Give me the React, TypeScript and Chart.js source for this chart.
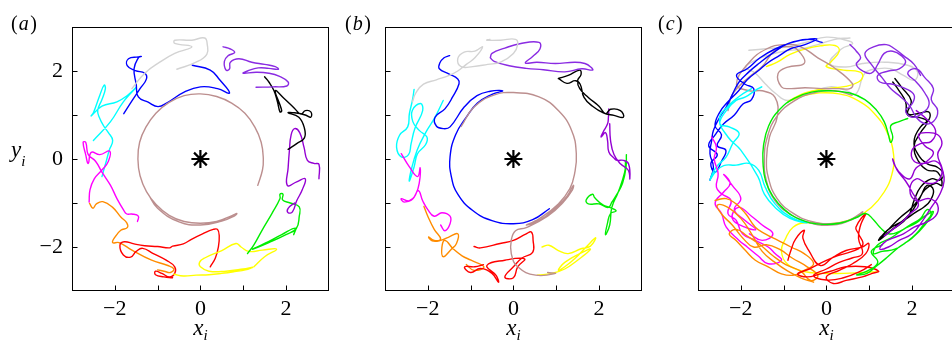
import React, { useEffect, useRef } from 'react';
import { Chart, registerables } from 'chart.js';
Chart.register(...registerables);

type P = [number, number][];

const AXIS_MIN = -3;
const AXIS_MAX = 3;
const TICK_VALUES = [-2, -1, 0, 1, 2];
const CENTER: P = [[0, 0]];

// ---------- panel (a) ----------
const A_BROWN: P = [[1.34,-0.6],[1.45,-0.25],[1.47,0.0],[1.42,0.38],[1.27,0.73],[1.04,1.04],[0.73,1.27],[0.38,1.42],[0,1.48],[-0.38,1.44],[-0.74,1.28],[-1.04,1.04],[-1.27,0.73],[-1.42,0.38],[-1.46,0.0],[-1.41,-0.38],[-1.26,-0.74],[-1.03,-1.04],[-0.73,-1.28],[-0.38,-1.42],[0,-1.46],[0.38,-1.42],[0.75,-1.28],[0.85,-1.24],[0.8,-1.29],[0.5,-1.41],[0,-1.5],[-0.5,-1.43],[-1.0,-1.12],[-1.22,-0.8]];
const A_GREY: P = [[-1.6,1.6],[-1.3,1.95],[-0.95,2.2],[-0.6,2.4],[-0.2,2.55],[-0.6,2.63],[-0.6,2.7],[-0.2,2.7],[0.1,2.75],[0.16,2.6],[0.15,2.38],[-0.1,2.2],[-0.55,2.04]];
const A_BLUE: P = [[-1.79,1.03],[-1.6,1.32],[-1.41,1.6],[-1.26,1.82],[-1.3,1.95],[-1.52,2.01],[-1.71,2.12],[-1.68,2.28],[-1.45,2.32],[-1.38,2.33],[-1.45,2.3],[-1.55,2.05],[-1.5,1.7],[-1.45,1.41],[-1.22,1.29],[-0.99,1.19],[-0.76,1.29],[-0.38,1.52],[0.0,1.64],[0.4,1.6],[0.68,1.5],[0.45,1.8],[0.23,2.02],[-0.19,2.13]];
const A_VIOLET1: P = [[0.53,2.55],[0.7,2.5],[0.8,2.42],[0.65,2.35],[0.56,2.22],[0.6,2.02],[0.68,2.05],[0.7,2.2],[0.9,2.28],[1.2,2.2],[1.5,2.15],[1.75,2.1],[1.82,2.04],[1.6,2.06],[1.35,2.07],[1.1,2.0],[1.0,1.95],[1.3,1.97],[1.6,1.95],[1.85,1.88],[2.05,1.75],[2.02,1.66],[1.7,1.64],[1.3,1.63]];
const A_BLACK: P = [[1.5,1.87],[1.6,1.75],[1.72,1.55],[1.8,1.3],[1.86,1.07],[1.9,1.1],[1.75,1.55],[1.95,1.38],[2.2,1.15],[2.35,1.02],[2.45,1.1],[2.58,1.07],[2.58,0.95],[2.45,1.0],[2.2,1.05],[2.05,1.05],[2.3,0.95],[2.43,0.7],[2.43,0.48],[2.25,0.35],[2.05,0.22]];
const A_VIOLET2: P = [[2.77,-0.45],[2.77,-0.12],[2.65,-0.1],[2.5,-0.03],[2.42,0.27],[2.32,0.6],[2.2,0.69],[2.12,0.55],[2.08,0.2],[2.05,-0.2],[2.03,-0.6],[2.25,-0.52],[2.45,-0.45],[2.38,-0.7],[2.25,-0.95],[2.15,-1.2],[2.05,-1.22],[2.05,-1.12],[2.2,-1.0]];
const A_GREEN: P = [[1.1,-2.15],[1.25,-1.95],[1.44,-1.62],[1.67,-1.24],[1.86,-0.9],[1.86,-0.8],[1.93,-0.8],[1.92,-0.93],[2.1,-1.0],[2.31,-1.09],[2.31,-1.3],[2.24,-1.58],[2.0,-1.72],[1.6,-1.9],[1.22,-2.05],[1.5,-1.92],[1.9,-1.72],[2.22,-1.57],[2.18,-1.72]];
const A_YELLOW: P = [[-0.62,-2.62],[-0.4,-2.66],[-0.1,-2.64],[0.2,-2.63],[0.5,-2.6],[0.8,-2.56],[1.05,-2.52],[1.22,-2.46],[1.0,-2.5],[0.6,-2.55],[0.2,-2.55],[0.0,-2.45],[-0.02,-2.35],[0.1,-2.25],[0.5,-2.08],[0.83,-1.92],[0.95,-2.0],[1.13,-2.1],[1.45,-2.07],[1.78,-2.05],[1.5,-2.22],[1.25,-2.45]];
const A_RED: P = [[0.23,-2.45],[0.35,-2.25],[0.42,-2.0],[0.44,-1.75],[0.4,-1.6],[0.3,-1.6],[0.05,-1.7],[-0.2,-1.82],[-0.4,-1.93],[-0.65,-1.98],[-0.72,-2.02],[-1.0,-1.99],[-1.3,-1.97],[-1.55,-1.93],[-1.78,-1.88],[-1.88,-1.96],[-1.8,-2.18],[-1.63,-2.23],[-1.5,-2.1],[-1.35,-2.03],[-1.1,-2.15],[-0.8,-2.3],[-0.6,-2.45],[-0.6,-2.6],[-0.72,-2.68],[-0.9,-2.6],[-1.05,-2.55],[-1.05,-2.63],[-0.85,-2.68],[-0.65,-2.7]];
const A_ORANGE: P = [[-2.59,-1.01],[-2.51,-1.12],[-2.43,-1.02],[-2.28,-0.97],[-2.05,-1.1],[-1.86,-1.32],[-1.72,-1.45],[-1.71,-1.56],[-1.86,-1.62],[-2.0,-1.78],[-2.05,-1.9],[-1.9,-1.9],[-1.6,-2.07],[-1.14,-2.3],[-0.76,-2.42],[-0.62,-2.5],[-0.7,-2.58],[-0.85,-2.55],[-1.0,-2.52]];
const A_MAGENTA: P = [[-2.6,-0.98],[-2.58,-0.7],[-2.48,-0.45],[-2.3,-0.25],[-2.15,-0.05],[-2.12,0.18],[-2.35,0.1],[-2.55,0.15],[-2.62,-0.1],[-2.68,0.1],[-2.74,0.38],[-2.68,0.38],[-2.62,0.1],[-2.45,-0.05],[-2.3,-0.3],[-2.1,-0.6],[-1.95,-0.9],[-1.8,-1.15],[-1.72,-1.25],[-1.6,-1.25],[-1.45,-1.3],[-1.47,-1.42]];
const A_CYAN: P = [[-2.3,-0.4],[-2.2,-0.05],[-2.13,0.2],[-2.05,0.42],[-2.15,0.6],[-2.26,0.75],[-2.35,0.92],[-2.4,1.1],[-2.3,1.35],[-2.22,1.6],[-2.25,1.68],[-2.35,1.45],[-2.5,1.05],[-2.55,0.98],[-2.3,1.2],[-1.95,1.3],[-1.7,1.45],[-1.5,1.63],[-1.8,1.3],[-2.1,0.85],[-2.5,0.42]];

// ---------- panel (b) ----------
const B_BROWN: P = [[-1.22,0.74],[-0.92,1.18],[-0.46,1.45],[0,1.51],[0.6,1.41],[1.05,1.1],[1.36,0.65],[1.47,0.12],[1.43,-0.33],[1.32,-0.67],[1.05,-1.02],[0.6,-1.36],[0.3,-1.5],[0.6,-1.4],[1.0,-1.1],[1.25,-0.85],[1.4,-0.6],[1.38,-0.7],[1.15,-1.0],[0.8,-1.3],[0.3,-1.56],[0.05,-1.63],[-0.05,-1.85],[-0.05,-2.15],[0.1,-2.45],[0.52,-2.64],[0.98,-2.6],[0.8,-2.58]];
const B_GREY: P = [[-2.36,1.3],[-2.28,1.5],[-2.1,1.7],[-1.8,1.8],[-1.5,1.9],[-1.3,2.0],[-1.1,2.15],[-0.9,2.3],[-0.72,2.55],[-0.9,2.45],[-1.15,2.43],[-1.3,2.28],[-1.22,2.1],[-0.95,2.1],[-0.6,2.15],[-0.3,2.2],[0.0,2.4],[0.1,2.6],[0.05,2.72],[-0.3,2.7],[-0.62,2.7],[-0.55,2.72]];
const B_BLUE: P = [[-1.49,2.35],[-1.62,2.3],[-1.72,2.18],[-1.73,2.05],[-1.5,1.93],[-1.3,1.82],[-1.27,1.71],[-1.42,1.41],[-1.6,1.14],[-1.83,0.95],[-1.8,0.75],[-1.63,0.69],[-1.48,0.73],[-1.15,1.18],[-0.85,1.44],[-0.54,1.54],[-0.25,1.55],[-0.5,1.47],[-0.84,1.27],[-1.1,0.95],[-1.35,0.55],[-1.48,0.05],[-1.45,-0.4],[-1.3,-0.8],[-0.95,-1.17],[-0.5,-1.4],[0.0,-1.47],[0.45,-1.38],[0.84,-1.13]];
const B_VIOLET1: P = [[-0.54,2.3],[-0.5,2.4],[-0.2,2.52],[0.15,2.62],[0.6,2.65],[0.62,2.5],[0.45,2.33],[0.28,2.18],[0.55,2.2],[0.98,2.17],[1.43,2.2],[1.67,2.17],[1.82,2.08],[1.85,2.02],[1.6,2.05],[1.2,1.98],[0.7,2.03],[0.3,2.06],[-0.1,2.12],[-0.45,2.22],[-0.54,2.3]];
const B_BLACK: P = [[1.05,1.83],[1.28,1.9],[1.55,2.02],[1.58,1.92],[1.5,1.78],[1.55,1.6],[1.75,1.4],[2.0,1.2],[2.15,1.03],[2.27,1.13],[2.5,1.1],[2.57,0.95],[2.35,0.99],[2.1,1.05],[1.85,1.2],[1.65,1.4],[1.56,1.7],[1.45,1.78],[1.25,1.72],[1.05,1.83]];
const B_VIOLET2: P = [[2.23,1.14],[2.22,0.95],[2.2,0.8],[2.1,0.62],[2.05,0.5],[2.15,0.6],[2.2,0.42],[2.23,0.16],[2.35,0.02],[2.42,-0.03],[2.57,-0.03],[2.69,-0.11],[2.72,-0.45],[2.68,-0.25],[2.5,-0.11],[2.35,0.1],[2.27,0.42],[2.25,0.8]];
const B_GREEN: P = [[2.64,0.1],[2.63,-0.2],[2.55,-0.55],[2.42,-0.8],[2.3,-0.98],[2.22,-1.1],[2.0,-1.02],[1.75,-1.02],[1.7,-0.93],[1.85,-0.8],[1.9,-0.88],[2.1,-1.05],[2.25,-1.1],[2.4,-1.18],[2.27,-1.24],[2.2,-1.45],[2.15,-1.72],[2.25,-1.5],[2.3,-1.1],[2.45,-0.75],[2.6,-0.3],[2.62,-0.05]];
const B_YELLOW: P = [[0.67,-2.0],[0.83,-1.96],[1.05,-2.08],[1.28,-2.15],[1.58,-2.04],[1.8,-1.98],[1.92,-1.79],[1.7,-2.0],[1.45,-2.25],[1.2,-2.45],[1.05,-2.53],[1.2,-2.35],[1.55,-2.15],[1.8,-2.05],[1.5,-2.3],[1.2,-2.5],[0.9,-2.6],[0.56,-2.64]];
const B_RED: P = [[-0.92,-1.99],[-0.77,-2.02],[-0.31,-1.92],[0.0,-1.85],[0.3,-1.7],[0.42,-1.66],[0.46,-1.85],[0.45,-2.12],[0.2,-2.25],[0.0,-2.45],[-0.2,-2.68],[0.0,-2.7],[0.1,-2.45],[0.26,-2.27],[-0.2,-2.3],[-0.62,-2.42],[-0.4,-2.65],[-0.35,-2.8],[-0.5,-2.6],[-0.77,-2.49],[-1.0,-2.58],[-1.14,-2.45],[-0.9,-2.45],[-0.7,-2.4]];
const B_ORANGE: P = [[-2.09,-1.08],[-2.0,-1.3],[-1.85,-1.6],[-1.7,-1.82],[-1.85,-1.85],[-1.98,-1.77],[-1.9,-1.86],[-1.7,-1.85],[-1.52,-1.78],[-1.3,-1.7],[-1.33,-1.92],[-1.45,-2.05],[-1.64,-2.22],[-1.67,-2.0],[-1.6,-1.85],[-1.4,-2.05],[-1.2,-2.2],[-0.99,-2.3],[-0.69,-2.45],[-0.92,-2.53],[-1.1,-2.4]];
const B_MAGENTA: P = [[-2.62,0.12],[-2.43,-0.18],[-2.24,-0.4],[-2.18,-0.2],[-2.2,-0.55],[-2.28,-0.8],[-2.42,-0.95],[-2.62,-0.9],[-2.55,-0.98],[-2.35,-0.9],[-2.22,-0.72],[-2.12,-0.95],[-2.0,-1.15],[-1.85,-1.3],[-1.67,-1.22],[-1.48,-1.3],[-1.48,-1.47],[-1.6,-1.63],[-1.7,-1.5]];
const B_CYAN: P = [[-2.32,1.58],[-2.36,1.33],[-2.43,1.03],[-2.47,0.73],[-2.66,0.54],[-2.73,0.27],[-2.62,0.05],[-2.45,0.1],[-2.39,0.35],[-2.3,0.7],[-2.12,1.1],[-2.17,1.26],[-2.36,1.11],[-2.35,0.85],[-2.2,0.65],[-2.02,0.5],[-2.05,0.33],[-2.24,0.12],[-2.32,-0.18],[-2.43,-0.5],[-2.4,-0.3],[-2.25,0.2],[-2.05,0.6],[-1.83,0.95],[-1.64,1.33]];

// ---------- panel (c) ----------
const C_BROWN: P = [[-2.3,1.1],[-2.19,1.48],[-1.81,1.86],[-1.5,2.1],[-1.2,2.47],[-0.83,2.55],[-0.6,2.4],[-0.52,2.17],[-0.9,2.09],[-1.13,1.94],[-1.05,1.64],[-0.85,1.6],[-0.5,1.62],[-0.1,1.6],[0.3,1.6],[0.55,1.6],[0.61,1.71],[0.16,2.09],[-0.2,2.3],[-0.6,2.55],[-1.0,2.6],[-1.4,2.5],[-1.8,2.2],[-2.1,1.7],[-1.8,1.55],[-1.5,1.55],[-1.2,1.4],[-1.15,0.95],[-1.33,0.5],[-1.4,0.0],[-1.35,-0.45],[-1.15,-0.9],[-0.8,-1.22],[-0.35,-1.42],[0.1,-1.47],[0.5,-1.4],[0.85,-1.2],[0.6,-1.38],[0.1,-1.5],[-0.4,-1.45],[-0.85,-1.25],[-1.2,-0.95],[-1.4,-0.5],[-1.45,0.0],[-1.38,0.5],[-1.15,0.98],[-0.75,1.32],[-0.3,1.5],[0.2,1.55],[0.6,1.45]];
const C_GREY: P = [[-1.81,2.47],[-1.36,2.51],[-0.9,2.55],[-0.45,2.66],[0.0,2.77],[0.46,2.7],[0.61,2.62],[0.35,2.5],[0.08,2.17],[0.46,2.09],[0.84,2.17],[1.37,2.2],[1.9,2.13],[2.13,1.98],[2.05,1.79],[1.8,1.9],[1.5,2.05],[1.2,2.05],[0.9,1.95],[0.69,1.48],[0.46,1.56],[0.08,1.64],[-0.4,1.5],[-0.9,1.33],[-1.2,1.5],[-1.43,1.71],[-1.66,1.95],[-1.89,2.09],[-1.66,2.24],[-1.4,2.35],[-1.0,2.45],[-0.6,2.5],[-0.2,2.6],[0.2,2.72],[0.55,2.75]];
const C_BLUE: P = [[-2.72,-0.48],[-2.64,-0.18],[-2.72,0.12],[-2.68,0.42],[-2.64,0.65],[-2.49,0.95],[-2.34,1.18],[-2.19,1.48],[-2.04,1.75],[-1.81,1.98],[-1.58,2.17],[-1.28,2.39],[-0.9,2.62],[-0.52,2.71],[-0.22,2.73],[-0.5,2.6],[-0.85,2.5],[-1.1,2.35],[-1.35,2.2],[-1.6,2.0],[-1.85,1.8],[-2.05,1.55],[-2.3,1.3],[-2.5,1.05],[-2.6,0.75],[-2.45,0.55],[-2.55,0.3],[-2.35,0.2],[-2.45,-0.05],[-2.6,-0.3],[-2.7,-0.1],[-2.55,0.1],[-2.75,0.3],[-2.6,0.55],[-2.4,0.8],[-2.15,1.0],[-1.95,1.25],[-1.75,1.35],[-1.7,1.6],[-1.9,1.7],[-2.1,1.9],[-1.85,2.05],[-1.55,2.3],[-1.2,2.5],[-0.8,2.65],[-0.4,2.72],[-0.1,2.65]];
const C_VIOLET1: P = [[0.55,2.6],[0.7,2.45],[0.8,2.3],[0.7,2.15],[0.85,2.0],[1.05,1.95],[1.2,2.15],[1.35,2.4],[1.55,2.45],[1.75,2.35],[1.85,2.2],[1.7,2.05],[1.45,2.0],[1.2,1.9],[1.25,1.75],[1.55,1.7],[1.85,1.6],[2.05,1.45],[2.0,1.25],[1.85,1.1],[2.0,0.95],[2.25,1.05],[2.4,1.25],[2.3,1.5],[2.1,1.75],[1.9,1.95],[2.1,2.05],[2.3,1.85],[2.5,1.6],[2.45,1.35],[2.6,1.1],[2.5,0.85],[2.3,0.8],[2.1,0.95],[1.95,1.2],[1.75,1.4],[1.5,1.6],[1.3,1.85],[1.05,2.15],[0.9,2.4],[1.1,2.55],[1.4,2.6],[1.6,2.5],[1.8,2.35],[2.05,2.15],[2.2,1.9]];
const C_BLACK: P = [[1.6,1.83],[1.75,1.64],[1.98,1.33],[1.9,1.03],[2.13,1.03],[2.39,1.07],[2.4,0.9],[2.2,0.73],[2.05,0.42],[2.13,0.12],[2.36,-0.11],[2.58,-0.18],[2.73,-0.33],[2.65,-0.48],[2.45,-0.45],[2.2,-0.64],[2.05,-0.94],[1.9,-1.32],[1.52,-1.62],[1.22,-1.85],[1.45,-1.6],[1.8,-1.4],[2.1,-1.2],[2.28,-1.09],[2.43,-0.94],[2.5,-0.7],[2.35,-0.6],[2.2,-0.85],[2.0,-1.1],[1.7,-1.35],[1.4,-1.65],[1.25,-1.8],[1.6,-1.55],[1.95,-1.25],[2.15,-0.95],[2.3,-0.7],[2.55,-0.55],[2.7,-0.6],[2.6,-0.3],[2.35,-0.25],[2.15,-0.05],[2.05,0.3],[2.2,0.6],[2.35,0.85],[2.15,0.95],[1.9,1.0],[1.85,1.3],[1.7,1.55],[1.55,1.75]];
const C_VIOLET2: P = [[2.1,1.1],[2.35,0.9],[2.55,0.65],[2.45,0.4],[2.2,0.35],[2.0,0.2],[2.05,-0.05],[2.3,-0.1],[2.55,-0.05],[2.7,-0.25],[2.6,-0.5],[2.35,-0.55],[2.1,-0.45],[1.95,-0.7],[2.1,-0.95],[2.4,-0.9],[2.6,-1.05],[2.55,-1.3],[2.3,-1.45],[2.05,-1.55],[1.8,-1.7],[1.55,-1.8],[1.35,-1.9],[1.25,-2.05],[1.45,-2.0],[1.7,-1.85],[2.0,-1.7],[2.25,-1.4],[2.45,-1.1],[2.65,-0.8],[2.75,-0.5],[2.7,-0.2],[2.6,0.1],[2.7,0.35],[2.6,0.55],[2.35,0.6],[2.15,0.55],[2.3,0.3],[2.5,0.15],[2.35,-0.05],[2.1,-0.2],[1.95,-0.45],[1.75,-0.35],[1.6,-0.15],[1.55,0.0],[1.65,-0.25],[1.85,-0.5],[2.0,-0.75],[2.15,-1.05],[1.95,-1.25],[1.75,-1.45],[1.55,-1.6],[1.35,-1.75]];
const C_GREEN: P = [[1.9,0.92],[1.7,0.85],[1.5,0.75],[1.55,0.5],[1.5,0.38],[1.45,0.55],[1.35,0.85],[1.18,1.1],[0.9,1.35],[0.55,1.5],[0.1,1.55],[-0.35,1.52],[-0.75,1.38],[-1.1,1.12],[-1.35,0.75],[-1.47,0.3],[-1.48,-0.1],[-1.42,-0.5],[-1.25,-0.85],[-0.98,-1.15],[-0.6,-1.38],[-0.15,-1.48],[0.3,-1.46],[0.7,-1.33],[0.92,-1.24],[1.1,-1.38],[1.25,-1.55],[1.45,-1.7],[1.7,-1.65],[1.95,-1.5],[2.2,-1.35],[2.35,-1.15],[2.45,-1.25],[2.3,-1.45],[2.1,-1.7],[1.85,-1.9],[1.6,-2.05],[1.3,-2.1],[1.1,-2.15],[1.2,-1.95],[1.5,-1.8],[1.8,-1.6],[2.1,-1.45],[2.3,-1.3],[2.5,-1.2],[2.3,-1.5],[2.0,-1.8],[1.7,-2.0],[1.4,-2.25],[1.15,-2.45],[0.95,-2.6],[0.7,-2.63],[0.95,-2.55],[1.2,-2.35],[1.05,-2.1],[1.3,-1.95]];
const C_YELLOW: P = [[-1.4,2.1],[-1.15,2.2],[-0.85,2.38],[-0.5,2.5],[-0.15,2.57],[0.2,2.58],[0.3,2.45],[0.1,2.2],[0.0,2.1],[0.4,2.02],[0.77,1.98],[0.85,1.88],[0.75,1.75],[0.45,1.65],[0.0,1.6],[-0.5,1.5],[-0.9,1.3],[-0.6,1.42],[-0.2,1.5],[0.3,1.48],[0.75,1.32],[1.15,1.0],[1.42,0.6],[1.57,0.1],[1.53,-0.35],[1.35,-0.75],[1.05,-1.1],[0.7,-1.32],[0.3,-1.45],[-0.1,-1.47],[-0.5,-1.45],[-0.78,-1.55],[-0.95,-1.8],[-1.05,-2.1],[-0.9,-2.4],[-0.55,-2.55],[-0.1,-2.6],[0.4,-2.6],[0.85,-2.58],[1.2,-2.56]];
const C_RED: P = [[-0.9,-2.3],[-0.82,-2.05],[-0.72,-1.82],[-0.52,-1.62],[-0.55,-1.8],[-0.4,-2.1],[-0.14,-2.42],[0.16,-2.23],[0.46,-2.08],[0.84,-2.0],[0.99,-1.92],[0.92,-2.15],[0.61,-2.38],[0.3,-2.53],[0.0,-2.68],[0.16,-2.83],[0.46,-2.76],[0.84,-2.68],[1.07,-2.6],[1.22,-2.55],[0.9,-2.45],[0.46,-2.45],[0.1,-2.55],[-0.14,-2.61],[-0.45,-2.68],[-0.67,-2.61],[-0.4,-2.5],[-0.1,-2.35],[0.25,-2.2],[0.6,-2.1],[0.85,-1.95],[0.75,-1.7],[0.69,-1.55],[0.92,-1.24],[0.8,-1.5],[0.75,-1.8],[0.84,-2.15],[0.6,-2.25],[0.3,-2.35],[0.0,-2.5],[-0.3,-2.65],[0.0,-2.75],[0.4,-2.7],[0.8,-2.55],[1.05,-2.4]];
const C_ORANGE: P = [[-2.6,-0.94],[-2.34,-0.9],[-2.11,-1.02],[-1.89,-1.24],[-1.66,-1.55],[-1.43,-1.7],[-1.13,-1.85],[-0.83,-2.0],[-0.52,-2.15],[-0.3,-2.38],[-0.52,-2.53],[-0.75,-2.64],[-1.05,-2.61],[-1.36,-2.45],[-1.66,-2.3],[-1.89,-2.08],[-2.11,-1.85],[-2.27,-1.7],[-2.1,-1.6],[-1.85,-1.75],[-1.55,-1.95],[-1.25,-2.2],[-0.95,-2.4],[-0.6,-2.55],[-0.37,-2.76],[-0.2,-2.65],[-0.45,-2.45],[-0.8,-2.25],[-1.1,-2.05],[-1.4,-1.95],[-1.7,-2.0],[-1.95,-1.8],[-2.2,-1.5],[-2.45,-1.25],[-2.55,-1.05],[-2.3,-1.1],[-2.0,-1.35],[-1.75,-1.7],[-1.5,-2.1],[-1.2,-2.35],[-0.9,-2.55],[-0.6,-2.7],[-0.3,-2.8]];
const C_MAGENTA: P = [[-2.68,0.5],[-2.57,0.27],[-2.62,0.0],[-2.53,-0.33],[-2.57,-0.64],[-2.45,-0.79],[-2.23,-0.94],[-2.3,-1.24],[-2.11,-1.39],[-1.96,-1.7],[-1.66,-1.85],[-1.36,-2.0],[-1.2,-2.15],[-1.05,-2.3],[-1.36,-2.38],[-1.6,-2.2],[-1.85,-2.0],[-2.04,-1.85],[-2.34,-1.55],[-2.45,-1.24],[-2.6,-1.0],[-2.4,-0.75],[-2.25,-0.55],[-2.4,-0.35],[-2.2,-0.6],[-2.0,-0.9],[-2.15,-1.15],[-1.9,-1.4],[-1.65,-1.6],[-1.9,-1.55],[-2.2,-1.35],[-2.05,-1.1],[-1.75,-1.3],[-1.5,-1.5],[-1.25,-1.7],[-1.5,-1.85],[-1.8,-1.7]];
const C_CYAN: P = [[-1.51,1.64],[-1.66,1.56],[-1.89,1.41],[-2.11,1.33],[-2.34,1.1],[-2.49,0.8],[-2.27,0.73],[-2.04,0.58],[-2.19,0.35],[-2.34,0.05],[-2.57,-0.18],[-2.72,-0.48],[-2.6,-0.3],[-2.4,-0.15],[-2.11,-0.14],[-1.81,-0.1],[-1.58,-0.26],[-1.43,-0.64],[-1.2,-1.02],[-0.83,-1.32],[-0.45,-1.45],[-0.85,-1.35],[-1.2,-1.1],[-1.45,-0.8],[-1.6,-0.4],[-2.0,0.2],[-2.3,0.5],[-2.5,0.9],[-2.3,1.2],[-2.0,1.45],[-1.75,1.6]];

const COLOR_BROWN = '#bc8f8f';
const COLOR_GREY = '#d3d3d3';
const COLOR_BLUE = '#0000ff';
const COLOR_VIOLET1 = '#8a2be2';
const COLOR_VIOLET2 = '#9400d3';
const COLOR_BLACK = '#000000';
const COLOR_GREEN = '#00ee00';
const COLOR_YELLOW = '#ffff00';
const COLOR_RED = '#ff0000';
const COLOR_ORANGE = '#ff8c00';
const COLOR_MAGENTA = '#ff00ff';
const COLOR_CYAN = '#00ffff';

type Series = { pts: P; color: string };

const PANEL_A: Series[] = [
  { pts: A_BROWN, color: COLOR_BROWN }, { pts: A_GREY, color: COLOR_GREY },
  { pts: A_BLUE, color: COLOR_BLUE }, { pts: A_VIOLET1, color: COLOR_VIOLET1 },
  { pts: A_BLACK, color: COLOR_BLACK }, { pts: A_VIOLET2, color: COLOR_VIOLET2 },
  { pts: A_GREEN, color: COLOR_GREEN }, { pts: A_YELLOW, color: COLOR_YELLOW },
  { pts: A_RED, color: COLOR_RED }, { pts: A_ORANGE, color: COLOR_ORANGE },
  { pts: A_MAGENTA, color: COLOR_MAGENTA }, { pts: A_CYAN, color: COLOR_CYAN },
];
const PANEL_B: Series[] = [
  { pts: B_BROWN, color: COLOR_BROWN }, { pts: B_GREY, color: COLOR_GREY },
  { pts: B_BLUE, color: COLOR_BLUE }, { pts: B_VIOLET1, color: COLOR_VIOLET1 },
  { pts: B_BLACK, color: COLOR_BLACK }, { pts: B_VIOLET2, color: COLOR_VIOLET2 },
  { pts: B_GREEN, color: COLOR_GREEN }, { pts: B_YELLOW, color: COLOR_YELLOW },
  { pts: B_RED, color: COLOR_RED }, { pts: B_ORANGE, color: COLOR_ORANGE },
  { pts: B_MAGENTA, color: COLOR_MAGENTA }, { pts: B_CYAN, color: COLOR_CYAN },
];
const PANEL_C: Series[] = [
  { pts: C_VIOLET1, color: COLOR_VIOLET1 }, { pts: C_VIOLET2, color: COLOR_VIOLET2 },
  { pts: C_BLACK, color: COLOR_BLACK }, { pts: C_GREEN, color: COLOR_GREEN },
  { pts: C_RED, color: COLOR_RED }, { pts: C_ORANGE, color: COLOR_ORANGE },
  { pts: C_MAGENTA, color: COLOR_MAGENTA }, { pts: C_CYAN, color: COLOR_CYAN },
  { pts: C_BLUE, color: COLOR_BLUE }, { pts: C_BROWN, color: COLOR_BROWN },
  { pts: C_YELLOW, color: COLOR_YELLOW }, { pts: C_GREY, color: COLOR_GREY },
];

const SERIF = "'Liberation Serif', 'Times New Roman', serif";
const CANVAS_W = 340;
const CANVAS_H = 342;

const fmt = (v: number) => (v < 0 ? '\u2212' + Math.abs(v) : String(v));

function makeDecor(label: string, labelX: number, showY: boolean) {
  return {
    id: 'decor',
    afterDraw(chart: any) {
      const ctx: CanvasRenderingContext2D = chart.ctx;
      const { left, right, top, bottom } = chart.chartArea;
      const xs = chart.scales.x;
      const ys = chart.scales.y;
      ctx.save();
      ctx.strokeStyle = '#000';
      ctx.lineWidth = 1;
      const l = Math.round(left) + 0.5, t = Math.round(top) + 0.5;
      const r = Math.round(right) - 0.5, b = Math.round(bottom) - 0.5;
      ctx.strokeRect(l, t, r - l, b - t);
      ctx.beginPath();
      for (const v of TICK_VALUES) {
        const px = Math.round(xs.getPixelForValue(v)) + 0.5;
        ctx.moveTo(px, b);
        ctx.lineTo(px, b - 5);
        const py = Math.round(ys.getPixelForValue(v)) + 0.5;
        ctx.moveTo(l, py);
        ctx.lineTo(l + 5, py);
      }
      ctx.stroke();

      ctx.fillStyle = '#000';
      ctx.textBaseline = 'alphabetic';
      ctx.textAlign = 'left';
      const cx = (left + right) / 2;
      ctx.font = `italic 23px ${SERIF}`;
      const wx = ctx.measureText('x').width;
      ctx.font = `italic 15px ${SERIF}`;
      const wi = ctx.measureText('i').width;
      const sx = cx - (wx + wi) / 2;
      ctx.font = `italic 23px ${SERIF}`;
      ctx.fillText('x', sx, 335);
      ctx.font = `italic 15px ${SERIF}`;
      ctx.fillText('i', sx + wx, 340);
      if (showY) {
        ctx.font = `italic 23px ${SERIF}`;
        ctx.fillText('y', 11, 157);
        const wy = ctx.measureText('y').width;
        ctx.font = `italic 15px ${SERIF}`;
        ctx.fillText('i', 11 + wy, 166);
      }
      let px0 = labelX;
      ctx.font = `20px ${SERIF}`;
      ctx.fillText('(', px0, 30);
      px0 += ctx.measureText('(').width + 1;
      ctx.font = `italic 20px ${SERIF}`;
      ctx.fillText(label, px0, 30);
      px0 += ctx.measureText(label).width + 1.5;
      ctx.font = `20px ${SERIF}`;
      ctx.fillText(')', px0, 30);
      ctx.restore();
    },
  };
}

function Panel({ left, label, labelX, showY, series }: { left: number; label: string; labelX: number; showY: boolean; series: Series[] }) {
  const ref = useRef<HTMLCanvasElement>(null);
  useEffect(() => {
    const datasets: any[] = [
      {
        data: CENTER.map(([x, y]) => ({ x, y })),
        showLine: false,
        pointStyle: 'star',
        pointRadius: 9,
        borderWidth: 2.2,
        borderColor: '#000',
        backgroundColor: '#000',
      },
      ...series.map((s) => ({
        data: s.pts.map(([x, y]) => ({ x, y })),
        showLine: true,
        borderColor: s.color,
        backgroundColor: s.color,
        borderWidth: 1.4,
        pointRadius: 0,
        tension: 0.45,
        borderJoinStyle: 'round',
        borderCapStyle: 'round',
      })),
    ];
    const tickFont = { family: SERIF, size: 22 };
    const chart = new Chart(ref.current as HTMLCanvasElement, {
      type: 'scatter',
      data: { datasets },
      options: {
        responsive: false,
        animation: false,
        events: [],
        layout: { padding: { top: 27, right: 5, left: 0, bottom: 0 } },
        plugins: { legend: { display: false }, tooltip: { enabled: false } },
        scales: {
          x: {
            type: 'linear',
            min: AXIS_MIN,
            max: AXIS_MAX,
            grid: { display: false, drawTicks: false },
            border: { display: false },
            ticks: {
              stepSize: 1,
              padding: 5,
              color: '#000',
              font: tickFont,
              maxRotation: 0,
              autoSkip: false,
              callback: (v: any) => (Number(v) % 2 === 0 ? fmt(Number(v)) : null),
            },
            afterFit: (s: any) => { s.height = 51; },
          },
          y: {
            type: 'linear',
            min: AXIS_MIN,
            max: AXIS_MAX,
            grid: { display: false, drawTicks: false },
            border: { display: false },
            ticks: {
              display: showY,
              stepSize: 1,
              padding: 9,
              color: '#000',
              font: tickFont,
              autoSkip: false,
              callback: (v: any) => (Number(v) % 2 === 0 ? fmt(Number(v)) : null),
            },
            afterFit: (s: any) => { s.width = 72; },
          },
        },
      } as any,
      plugins: [makeDecor(label, labelX, showY)],
    });
    return () => chart.destroy();
  }, []);
  return (
    <canvas
      ref={ref}
      width={CANVAS_W}
      height={CANVAS_H}
      style={{ position: 'absolute', left, top: 0, width: CANVAS_W, height: CANVAS_H }}
    />
  );
}

export default function App() {
  return (
    <div style={{ position: 'absolute', left: 0, top: 0, width: 952, height: 342, overflow: 'hidden', background: '#fff' }}>
      <Panel left={0} label="a" labelX={11} showY={true} series={PANEL_A} />
      <Panel left={313} label="b" labelX={32} showY={false} series={PANEL_B} />
      <Panel left={626} label="c" labelX={32} showY={false} series={PANEL_C} />
    </div>
  );
}
